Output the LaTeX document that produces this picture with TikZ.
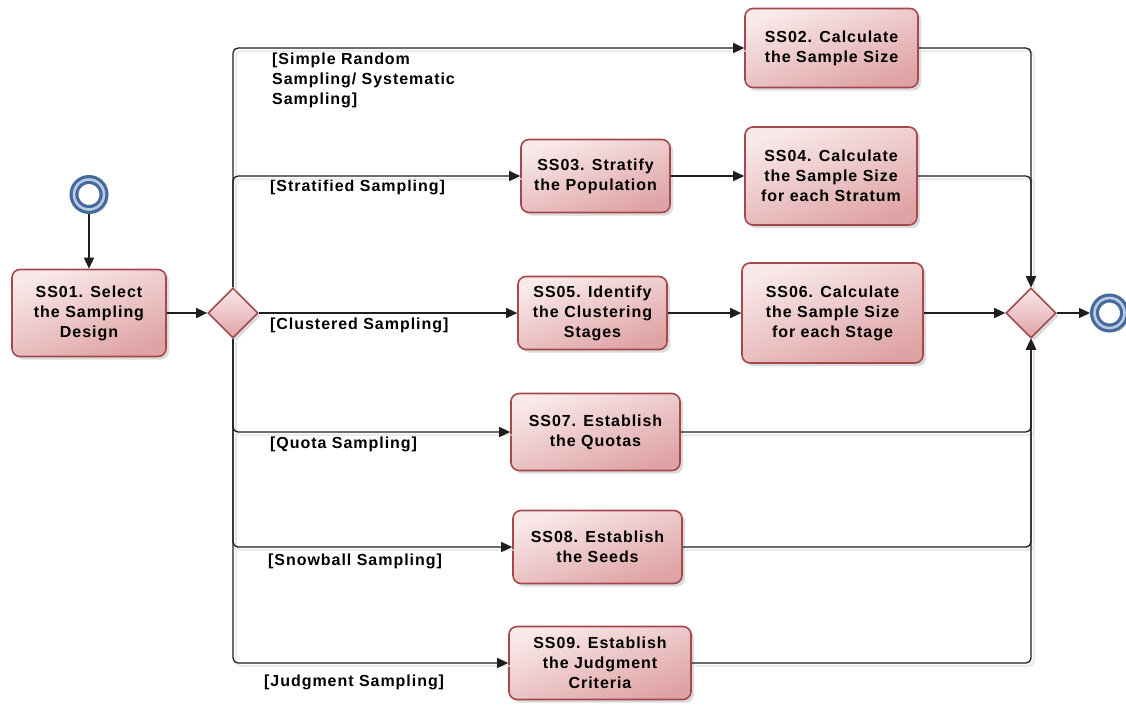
\documentclass[tikz,border=0pt]{standalone}
\usepackage{fontspec}
\setmainfont{Liberation Sans}
\newfontfamily\labelfont[LetterSpace=6]{Liberation Sans}
\usetikzlibrary{shapes.geometric,arrows.meta,shadows}
\definecolor{taskborder}{HTML}{A4484B}
\definecolor{tasklight}{HTML}{F9E9E9}
\definecolor{taskdark}{HTML}{DFA3A5}
\definecolor{eventblue}{HTML}{46699E}
\definecolor{eventpale}{HTML}{B9CAE2}
\definecolor{flowline}{HTML}{1E1E1E}
\definecolor{flowshade}{HTML}{E3E3E3}
\tikzset{
  task/.style={draw=taskborder, line width=1.6pt, rounded corners=8pt,
    top color=tasklight, bottom color=taskdark, shading angle=20,
    drop shadow={shadow xshift=3pt, shadow yshift=-3pt, fill=black!14, opacity=1},
    align=center, font=\labelfont\bfseries\fontsize{16}{20}\selectfont, inner sep=2pt},
  gateway/.style={diamond, draw=taskborder, line width=1.6pt, aspect=1,
    minimum width=50pt, minimum height=50pt, inner sep=0pt,
    top color=tasklight, bottom color=taskdark,
    drop shadow={shadow xshift=3pt, shadow yshift=-3pt, fill=black!14, opacity=1}},
  event/.style={circle, draw=eventblue, line width=9pt, fill=white,
    minimum size=30pt, inner sep=0pt,
    drop shadow={shadow xshift=4pt, shadow yshift=-4pt, fill=black!10, opacity=1}},
  eventstripe/.style={circle, draw=eventpale, line width=2.6pt, minimum size=30pt, inner sep=0pt},
  flow/.style={draw=flowline, line width=1.3pt, rounded corners=5pt},
  arr/.style={-{Triangle[length=11pt,width=10pt]}},
  guard/.style={font=\labelfont\bfseries\fontsize{16}{20}\selectfont, inner sep=0pt, align=left},
}
\begin{document}
\begin{tikzpicture}[x=1pt,y=-1pt]
\useasboundingbox (0,0) rectangle (1126,705);
\fill[white] (0,0) rectangle (1126,705);

% events
\node[event] (start) at (89,194.5) {};
\node[eventstripe] at (start) {};
\node[event] (end) at (1109.5,313) {};
\node[eventstripe] at (end) {};

% gateways
\node[gateway] (split) at (233,313) {};
\node[gateway] (merge) at (1031,313) {};

% tasks
\node[task, minimum width=154pt, minimum height=87pt] (ss01) at (89,313) {SS01. Select\\the Sampling\\Design};
\node[task, minimum width=173pt, minimum height=79pt] (ss02) at (831.5,48) {SS02. Calculate\\the Sample Size};
\node[task, minimum width=149pt, minimum height=73pt] (ss03) at (595.5,176) {SS03. Stratify\\the Population};
\node[task, minimum width=172pt, minimum height=98pt] (ss04) at (831,176) {SS04. Calculate\\the Sample Size\\for each Stratum};
\node[task, minimum width=149pt, minimum height=73pt] (ss05) at (592.5,313) {SS05. Identify\\the Clustering\\Stages};
\node[task, minimum width=181pt, minimum height=100pt] (ss06) at (832.5,313) {SS06. Calculate\\the Sample Size\\for each Stage};
\node[task, minimum width=169pt, minimum height=77pt] (ss07) at (595.5,432) {SS07. Establish\\the Quotas};
\node[task, minimum width=169pt, minimum height=73pt] (ss08) at (597.5,547) {SS08. Establish\\the Seeds};
\node[task, minimum width=182pt, minimum height=73pt] (ss09) at (600,663) {SS09. Establish\\the Judgment\\Criteria};

% guard labels
\node[guard, anchor=north west] (gsimple) at (272,53) {[Simple Random\\Sampling/ Systematic\\Sampling]};
\node[guard, anchor=west] (gstrat) at (270,187) {[Stratified Sampling]};
\node[guard, anchor=west] (gclust) at (270,325) {[Clustered Sampling]};
\node[guard, anchor=west] (gquota) at (270,444) {[Quota Sampling]};
\node[guard, anchor=west] (gsnow) at (268,561) {[Snowball Sampling]};
\node[guard, anchor=west] (gjudg) at (264,682) {[Judgment Sampling]};

% connector shading
\begin{scope}[transform canvas={shift={(3pt,-3pt)}}]
\draw[flow, draw=flowshade] (split.north) |- (ss02.west);
\draw[flow, draw=flowshade] (split.north) |- (ss03.west);
\draw[flow, draw=flowshade] (split.south) |- (ss07.west);
\draw[flow, draw=flowshade] (split.south) |- (ss08.west);
\draw[flow, draw=flowshade] (split.south) |- (ss09.west);
\draw[flow, draw=flowshade] (ss02.east) -| (merge.north);
\draw[flow, draw=flowshade] (ss04.east) -| (merge.north);
\draw[flow, draw=flowshade] (ss07.east) -| (merge.south);
\draw[flow, draw=flowshade] (ss08.east) -| (merge.south);
\draw[flow, draw=flowshade] (ss09.east) -| (merge.south);
\end{scope}

% sequence flows
\draw[flow, arr] (start) -- (ss01);
\draw[flow, arr] (ss01) -- (split);
\draw[flow, arr] (split.north) |- (ss02.west);
\draw[flow, arr] (split.north) |- (ss03.west);
\draw[flow, arr] (split.east) -- (ss05.west);
\draw[flow, arr] (split.south) |- (ss07.west);
\draw[flow, arr] (split.south) |- (ss08.west);
\draw[flow, arr] (split.south) |- (ss09.west);
\draw[flow, arr] (ss03) -- (ss04);
\draw[flow, arr] (ss05) -- (ss06);
\draw[flow, arr] (ss02.east) -| (merge.north);
\draw[flow, arr] (ss04.east) -| (merge.north);
\draw[flow, arr] (ss06.east) -- (merge.west);
\draw[flow, arr] (ss07.east) -| (merge.south);
\draw[flow, arr] (ss08.east) -| (merge.south);
\draw[flow, arr] (ss09.east) -| (merge.south);
\draw[flow, arr] (merge.east) -- (end);
\end{tikzpicture}
\end{document}
